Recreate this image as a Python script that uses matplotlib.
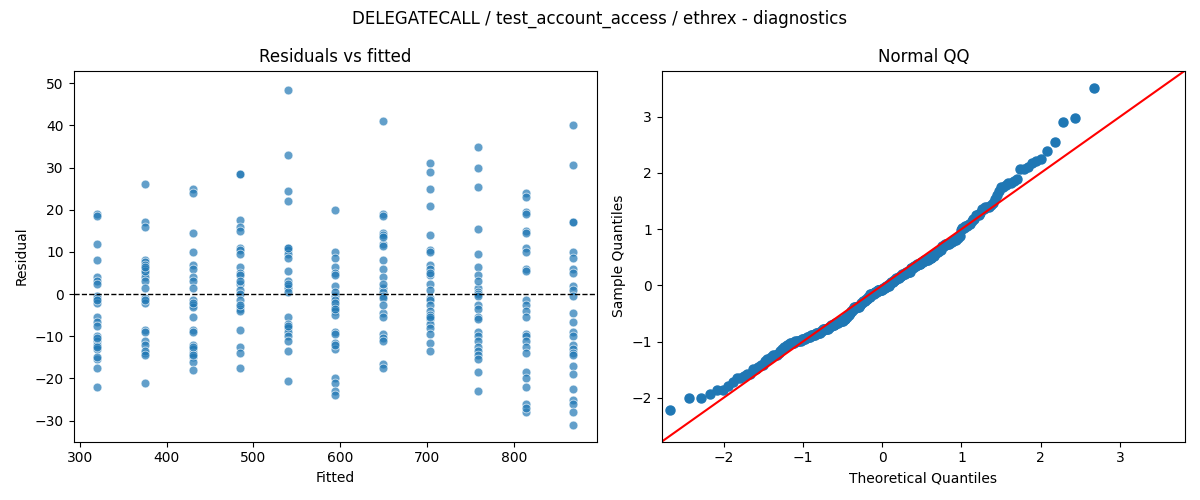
import numpy as np
import matplotlib
matplotlib.use("Agg")
import matplotlib.pyplot as plt

fitted_levels = [320, 375, 430, 485, 540, 594, 649, 703, 758, 813, 868]
res_320 = [19, 18.5, 12, 8, 4, 3, -0.5, -1, -2, -5.5, -6.5, -7.5, -10, -11, -12, -13, -15.5, -15, -17.5, -22, -1.5, 2.5, -10.5, -12.5]
res_375 = [26, 17, 16, 8, 7.5, 7, 6, 5, 4, 3, 1.5, -1, -2, -1.5, -8.5, -9, -11, -12, -14, -13.5, -14.5, -21, 5.5, 6.5]
res_430 = [25, 24, 14.5, 10, 7, 6, 4, 3, 1.5, -1.5, -2.5, -3, -5.5, -8.5, -9, -12, -13, -14, -15, -16, -18, -2, -12.5, -14.5]
res_485 = [28.5, 28.5, 17.5, 16, 15, 11, 10.5, 9.5, 6.5, 5, 4.5, 2.5, 1, 0, -1.5, -3, -3.5, -4, -8.5, -12.5, -14, -17.5, 3, -2.5]
res_540 = [48.5, 33, 24.5, 22, 11, 10.5, 9.5, 8.5, 5.5, 3, 2, 1.5, 0.5, -5.5, -7, -8, -9, -10, -11, -13.5, -20.5, 2.5, -7.5, 11]
res_594 = [20, 10, 8.5, 6.5, 5, 4.5, 2, -0.5, -1.5, -3, -4, -5, -9, -9.5, -11.5, -13, -20, -21, -23, -24, 0.5, -2, -3.5, -12]
res_649 = [41, 19, 18.5, 14.5, 14, 12, 11.5, 8, 6, 4, 1.5, 0.5, -0.5, -1, -4.5, -5.5, -9.5, -10.5, -11, -16.5, -17.5, 13.5, 2.5, -2.5]
res_703 = [31, 29, 25, 21, 14, 10.5, 10, 7, 6, 4.5, 2.5, 1, -1, -1.5, -2.5, -4, -5, -6, -7, -8, -9.5, -11.5, -13.5, 5, -5.5]
res_758 = [35, 30, 25.5, 15.5, 9.5, 6.5, 4.5, 1.5, 0.5, 0, -0.5, -2.5, -3.5, -5.5, -9, -10, -11, -12.5, -13.5, -14.5, -15.5, -18.5, -23, 3, -6]
res_813 = [24, 23, 19.5, 19, 15, 14.5, 11, 10, 6, 5.5, -1.5, -2.5, -4, -5.5, -9.5, -10, -11, -12.5, -14, -18.5, -20, -22, -26, -28, -27]
res_868 = [40, 30.5, 17, 17, 10, 8.5, 6, 5, 2, 1, -0.5, -4.5, -6.5, -9, -10, -12, -13, -14, -14.5, -17, -19, -22.5, -25, -26, -28, -31]

groups = [res_320, res_375, res_430, res_485, res_540, res_594, res_649, res_703, res_758, res_813, res_868]
fitted = np.concatenate([[f] * len(g) for f, g in zip(fitted_levels, groups)])
resid = np.concatenate([np.array(g, float) for g in groups])

def norm_ppf(p):
    a = [-3.969683028665376e+01, 2.209460984245205e+02, -2.759285104469687e+02, 1.383577518672690e+02, -3.066479806614716e+01, 2.506628277459239e+00]
    b = [-5.447609879822406e+01, 1.615858368580409e+02, -1.556989798598866e+02, 6.680131188771972e+01, -1.328068155288572e+01]
    c = [-7.784894002430293e-03, -3.223964580411365e-01, -2.400758277161838e+00, -2.549732539343734e+00, 4.374664141464968e+00, 2.938163982698783e+00]
    d = [7.784695709041462e-03, 3.224671290700398e-01, 2.445134137142996e+00, 3.754408661907416e+00]
    out = np.empty_like(p)
    for i, pi in enumerate(p):
        if pi < 0.02425:
            q = np.sqrt(-2 * np.log(pi))
            out[i] = (((((c[0]*q+c[1])*q+c[2])*q+c[3])*q+c[4])*q+c[5]) / ((((d[0]*q+d[1])*q+d[2])*q+d[3])*q+1)
        elif pi > 1 - 0.02425:
            q = np.sqrt(-2 * np.log(1 - pi))
            out[i] = -(((((c[0]*q+c[1])*q+c[2])*q+c[3])*q+c[4])*q+c[5]) / ((((d[0]*q+d[1])*q+d[2])*q+d[3])*q+1)
        else:
            q = pi - 0.5; r = q*q
            out[i] = (((((a[0]*r+a[1])*r+a[2])*r+a[3])*r+a[4])*r+a[5])*q / (((((b[0]*r+b[1])*r+b[2])*r+b[3])*r+b[4])*r+1)
    return out

n = len(resid)
sample = np.sort((resid - resid.mean()) / resid.std(ddof=1))
theo = norm_ppf(np.arange(1, n + 1) / (n + 1))

fig, (ax1, ax2) = plt.subplots(1, 2, figsize=(12, 5), dpi=100)
ax1.scatter(fitted, resid, s=40, color="#1f77b4", alpha=0.7, edgecolors="white", linewidths=0.6)
ax1.axhline(0, color="black", linestyle="--", linewidth=1)
ax1.set_xlim(293, 895)
ax1.set_ylim(-35, 53)
ax1.set_title("Residuals vs fitted")
ax1.set_xlabel("Fitted")
ax1.set_ylabel("Residual")

ax2.plot(theo, sample, "o", color="#1f77b4", markersize=6.5)
lim = (-2.78, 3.82)
ax2.plot(lim, lim, color="red")
ax2.set_xlim(lim)
ax2.set_ylim(lim)
ax2.set_title("Normal QQ")
ax2.set_xlabel("Theoretical Quantiles")
ax2.set_ylabel("Sample Quantiles")

fig.suptitle("DELEGATECALL / test_account_access / ethrex - diagnostics")
fig.tight_layout()
fig.savefig("out.png")
